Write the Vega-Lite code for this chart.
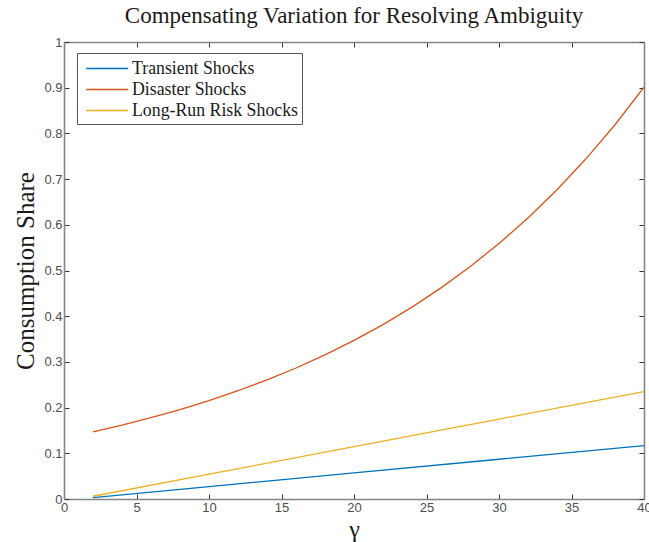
{
  "$schema": "https://vega.github.io/schema/vega-lite/v6.json",
  "autosize": {"type": "none"},
  "width": 580,
  "height": 457,
  "padding": {"left": 64, "top": 42, "right": 5, "bottom": 43},
  "background": "white",
  "title": {
    "text": "Compensating Variation for Resolving Ambiguity",
    "font": "Liberation Serif",
    "fontSize": 23,
    "fontWeight": "normal",
    "color": "#1a1a1a",
    "anchor": "middle",
    "offset": 8
  },
  "config": {
    "view": {"stroke": null},
    "axis": {
      "domainColor": "#858585",
      "domainWidth": 1.6,
      "tickColor": "#333333",
      "tickWidth": 1,
      "tickSize": -5,
      "grid": false,
      "labelFont": "Liberation Sans",
      "labelFontSize": 13,
      "labelColor": "#4d4d4d",
      "titleFont": "Liberation Serif",
      "titleFontWeight": "normal",
      "titleColor": "#1a1a1a"
    },
    "legend": {
      "labelFont": "Liberation Serif",
      "labelFontSize": 17.8,
      "labelColor": "#1a1a1a",
      "labelLimit": 400
    }
  },
  "data": {
    "values": [
      {"g": 2, "v": 0.003, "s": "Transient Shocks"},
      {"g": 10, "v": 0.027, "s": "Transient Shocks"},
      {"g": 20, "v": 0.057, "s": "Transient Shocks"},
      {"g": 30, "v": 0.087, "s": "Transient Shocks"},
      {"g": 40, "v": 0.117, "s": "Transient Shocks"},
      {"g": 2, "v": 0.147, "s": "Disaster Shocks"},
      {"g": 4, "v": 0.1617, "s": "Disaster Shocks"},
      {"g": 6, "v": 0.1779, "s": "Disaster Shocks"},
      {"g": 8, "v": 0.1957, "s": "Disaster Shocks"},
      {"g": 10, "v": 0.2153, "s": "Disaster Shocks"},
      {"g": 12, "v": 0.2369, "s": "Disaster Shocks"},
      {"g": 14, "v": 0.2606, "s": "Disaster Shocks"},
      {"g": 16, "v": 0.2867, "s": "Disaster Shocks"},
      {"g": 18, "v": 0.3154, "s": "Disaster Shocks"},
      {"g": 20, "v": 0.347, "s": "Disaster Shocks"},
      {"g": 22, "v": 0.3817, "s": "Disaster Shocks"},
      {"g": 24, "v": 0.4199, "s": "Disaster Shocks"},
      {"g": 26, "v": 0.462, "s": "Disaster Shocks"},
      {"g": 28, "v": 0.5082, "s": "Disaster Shocks"},
      {"g": 30, "v": 0.5591, "s": "Disaster Shocks"},
      {"g": 32, "v": 0.6151, "s": "Disaster Shocks"},
      {"g": 34, "v": 0.6767, "s": "Disaster Shocks"},
      {"g": 36, "v": 0.7444, "s": "Disaster Shocks"},
      {"g": 38, "v": 0.819, "s": "Disaster Shocks"},
      {"g": 40, "v": 0.901, "s": "Disaster Shocks"},
      {"g": 2, "v": 0.006, "s": "Long-Run Risk Shocks"},
      {"g": 10, "v": 0.0542, "s": "Long-Run Risk Shocks"},
      {"g": 20, "v": 0.1145, "s": "Long-Run Risk Shocks"},
      {"g": 30, "v": 0.1747, "s": "Long-Run Risk Shocks"},
      {"g": 40, "v": 0.235, "s": "Long-Run Risk Shocks"}
    ]
  },
  "resolve": {"axis": {"x": "independent", "y": "independent"}},
  "layer": [
    {
      "mark": {"type": "line", "strokeWidth": 1.3, "clip": true},
      "encoding": {
        "x": {
          "field": "g", "type": "quantitative",
          "scale": {"domain": [0, 40], "nice": false},
          "axis": {"values": [0, 5, 10, 15, 20, 25, 30, 35, 40], "format": "~g", "title": "γ", "titleFontSize": 24, "titlePadding": 3, "labelPadding": 7, "labelFlush": false, "labelOverlap": false}
        },
        "y": {
          "field": "v", "type": "quantitative",
          "scale": {"domain": [0, 1], "nice": false},
          "axis": {"values": [0, 0.1, 0.2, 0.3, 0.4, 0.5, 0.6, 0.7, 0.8, 0.9, 1], "format": "~g", "title": "Consumption Share", "titleFontSize": 25, "titlePadding": 5, "labelPadding": 7, "labelFlush": false, "labelOverlap": false}
        },
        "color": {
          "field": "s", "type": "nominal",
          "scale": {"domain": ["Transient Shocks", "Disaster Shocks", "Long-Run Risk Shocks"], "range": ["#0072BD", "#D95319", "#EDB120"]},
          "legend": {
            "title": null,
            "orient": "none",
            "legendX": 13,
            "legendY": 11,
            "symbolType": "M-0.6,0H3.4",
            "symbolSize": 441,
            "symbolStrokeWidth": 1.5,
            "strokeColor": "#555555",
            "fillColor": "white",
            "padding": 4,
            "rowPadding": 0,
            "labelOffset": 28
          }
        }
      }
    },
    {
      "mark": {"type": "line", "opacity": 0},
      "encoding": {
        "x": {"field": "g", "type": "quantitative", "axis": {"orient": "top", "values": [0, 5, 10, 15, 20, 25, 30, 35, 40], "labels": false, "title": null}},
        "y": {"field": "v", "type": "quantitative", "axis": {"orient": "right", "values": [0, 0.1, 0.2, 0.3, 0.4, 0.5, 0.6, 0.7, 0.8, 0.9, 1], "labels": false, "title": null}},
        "detail": {"field": "s"}
      }
    }
  ]
}
